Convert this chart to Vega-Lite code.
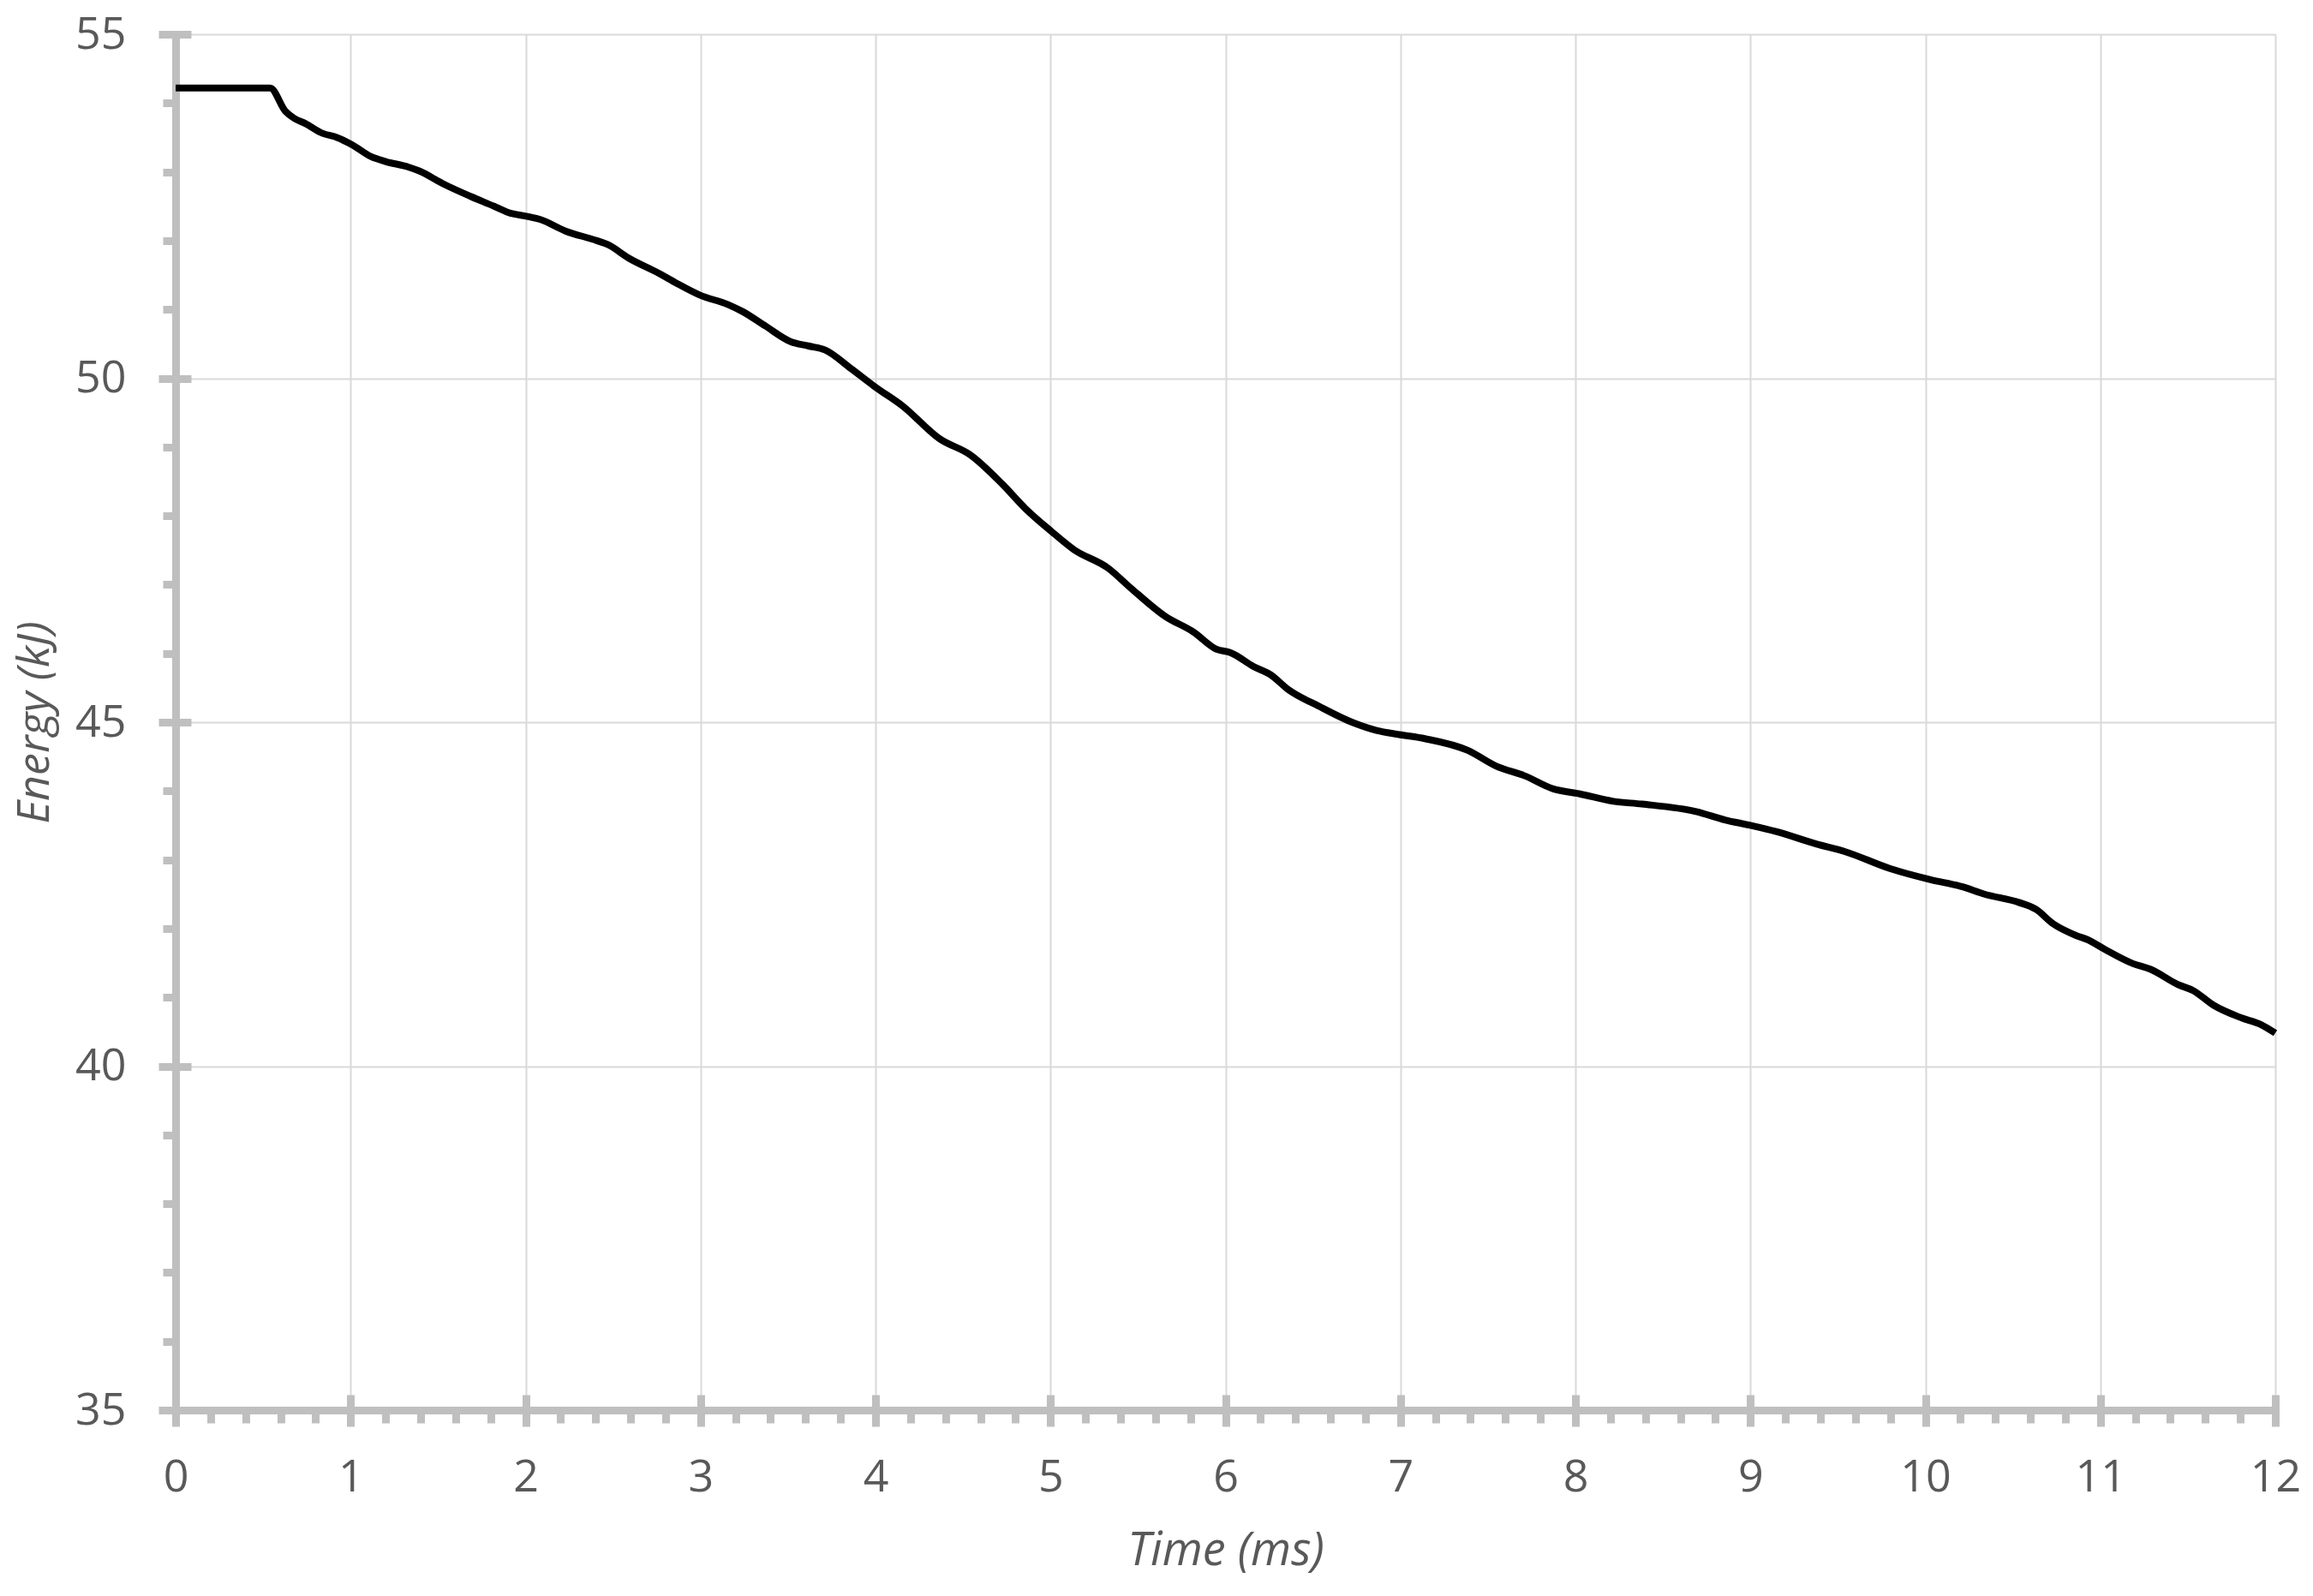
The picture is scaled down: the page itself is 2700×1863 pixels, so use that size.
{
  "$schema": "https://vega.github.io/schema/vega-lite/v6.json",
  "autosize": "none",
  "width": 2451,
  "height": 1606,
  "padding": {"left": 205, "top": 40, "right": 44, "bottom": 217},
  "background": "white",
  "config": {"view": {"stroke": null}},
  "data": {"values": [
    {"t": 0, "E": 54.22}, {"t": 0.54, "E": 54.22}, {"t": 0.628, "E": 53.88}, {"t": 0.677, "E": 53.78},
    {"t": 0.743, "E": 53.7}, {"t": 0.84, "E": 53.56}, {"t": 0.922, "E": 53.5}, {"t": 1.004, "E": 53.4},
    {"t": 1.118, "E": 53.22}, {"t": 1.2, "E": 53.15}, {"t": 1.33, "E": 53.07}, {"t": 1.395, "E": 53.01},
    {"t": 1.526, "E": 52.83}, {"t": 1.689, "E": 52.64}, {"t": 1.82, "E": 52.5}, {"t": 1.9, "E": 52.41},
    {"t": 2.015, "E": 52.35}, {"t": 2.081, "E": 52.31}, {"t": 2.228, "E": 52.14}, {"t": 2.407, "E": 52.0},
    {"t": 2.472, "E": 51.94}, {"t": 2.587, "E": 51.75}, {"t": 2.766, "E": 51.52}, {"t": 2.864, "E": 51.38},
    {"t": 2.995, "E": 51.21}, {"t": 3.158, "E": 51.07}, {"t": 3.24, "E": 50.97}, {"t": 3.37, "E": 50.76},
    {"t": 3.517, "E": 50.53}, {"t": 3.615, "E": 50.47}, {"t": 3.713, "E": 50.41}, {"t": 3.86, "E": 50.14},
    {"t": 4.0, "E": 49.87}, {"t": 4.153, "E": 49.6}, {"t": 4.366, "E": 49.12}, {"t": 4.545, "E": 48.88},
    {"t": 4.725, "E": 48.46}, {"t": 4.855, "E": 48.11}, {"t": 5.002, "E": 47.78}, {"t": 5.133, "E": 47.51},
    {"t": 5.329, "E": 47.24}, {"t": 5.459, "E": 46.95}, {"t": 5.655, "E": 46.54}, {"t": 5.818, "E": 46.31},
    {"t": 5.949, "E": 46.06}, {"t": 6.03, "E": 46.01}, {"t": 6.16, "E": 45.81}, {"t": 6.258, "E": 45.69},
    {"t": 6.356, "E": 45.48}, {"t": 6.536, "E": 45.23}, {"t": 6.732, "E": 44.99}, {"t": 6.863, "E": 44.88},
    {"t": 6.993, "E": 44.82}, {"t": 7.14, "E": 44.76}, {"t": 7.385, "E": 44.59}, {"t": 7.548, "E": 44.36},
    {"t": 7.711, "E": 44.22}, {"t": 7.874, "E": 44.03}, {"t": 8.02, "E": 43.96}, {"t": 8.217, "E": 43.85},
    {"t": 8.38, "E": 43.81}, {"t": 8.69, "E": 43.7}, {"t": 8.854, "E": 43.58}, {"t": 9.0, "E": 43.5},
    {"t": 9.147, "E": 43.41}, {"t": 9.376, "E": 43.23}, {"t": 9.539, "E": 43.12}, {"t": 9.8, "E": 42.87},
    {"t": 10.03, "E": 42.71}, {"t": 10.208, "E": 42.61}, {"t": 10.338, "E": 42.5}, {"t": 10.534, "E": 42.38},
    {"t": 10.632, "E": 42.28}, {"t": 10.73, "E": 42.07}, {"t": 10.861, "E": 41.9}, {"t": 10.926, "E": 41.84},
    {"t": 11.024, "E": 41.7}, {"t": 11.187, "E": 41.49}, {"t": 11.285, "E": 41.41}, {"t": 11.449, "E": 41.18},
    {"t": 11.53, "E": 41.1}, {"t": 11.644, "E": 40.89}, {"t": 11.808, "E": 40.7}, {"t": 11.921, "E": 40.6},
    {"t": 12.0, "E": 40.48}
  ]},
  "resolve": {"axis": {"x": "independent", "y": "independent"}},
  "layer": [
    {
      "mark": {"type": "line", "color": "black", "strokeWidth": 8, "interpolate": "monotone"},
      "encoding": {
        "x": {"field": "t", "type": "quantitative",
          "scale": {"domain": [0, 12], "nice": false, "zero": false},
          "axis": {"orient": "bottom", "title": "Time (ms)", "values": [0,1,2,3,4,5,6,7,8,9,10,11,12],
            "grid": true, "gridColor": "#d9d9d9", "gridWidth": 2,
            "domain": true, "domainColor": "#bfbfbf", "domainWidth": 9, "domainCap": "square",
            "ticks": true, "tickColor": "#bfbfbf", "tickWidth": 9, "tickSize": 19,
            "labelFont": "Open Sans", "labelFontSize": 52, "labelColor": "#595959", "labelPadding": 34,
            "labelFlush": false, "labelOverlap": false,
            "titleFont": "Open Sans", "titleFontSize": 54, "titleFontStyle": "italic", "titleFontWeight": "normal",
            "titleColor": "#595959", "titlePadding": 33}},
        "y": {"field": "E", "type": "quantitative",
          "scale": {"domain": [35, 55], "nice": false, "zero": false},
          "axis": {"orient": "left", "title": "Energy (kJ)", "values": [35, 40, 45, 50, 55],
            "grid": true, "gridColor": "#d9d9d9", "gridWidth": 2,
            "domain": true, "domainColor": "#bfbfbf", "domainWidth": 9, "domainCap": "square",
            "ticks": true, "tickColor": "#bfbfbf", "tickWidth": 9, "tickSize": 20,
            "labelFont": "Open Sans", "labelFontSize": 52, "labelColor": "#595959", "labelPadding": 38,
            "labelFlush": false, "labelOverlap": false,
            "titleFont": "Open Sans", "titleFontSize": 52, "titleFontStyle": "italic", "titleFontWeight": "normal",
            "titleColor": "#595959", "titlePadding": 20}}
      }
    },
    {
      "mark": {"type": "line", "strokeOpacity": 0},
      "encoding": {
        "x": {"field": "t", "type": "quantitative",
          "axis": {"orient": "bottom", "title": null, "labels": false, "grid": false, "domain": false,
            "values": [0.2,0.4,0.6,0.8,1.2,1.4,1.6,1.8,2.2,2.4,2.6,2.8,3.2,3.4,3.6,3.8,4.2,4.4,4.6,4.8,5.2,5.4,5.6,5.8,6.2,6.4,6.6,6.8,7.2,7.4,7.6,7.8,8.2,8.4,8.6,8.8,9.2,9.4,9.6,9.8,10.2,10.4,10.6,10.8,11.2,11.4,11.6,11.8],
            "ticks": true, "tickColor": "#bfbfbf", "tickWidth": 9, "tickSize": 15}},
        "y": {"field": "E", "type": "quantitative",
          "axis": {"orient": "left", "title": null, "labels": false, "grid": false, "domain": false,
            "values": [36,37,38,39,41,42,43,44,46,47,48,49,51,52,53,54],
            "ticks": true, "tickColor": "#bfbfbf", "tickWidth": 9, "tickSize": 15}}
      }
    },
    {
      "mark": {"type": "line", "strokeOpacity": 0},
      "encoding": {
        "x": {"field": "t", "type": "quantitative",
          "axis": {"orient": "bottom", "title": null, "labels": false, "grid": false, "domain": false,
            "values": [0,1,2,3,4,5,6,7,8,9,10,11,12],
            "ticks": true, "tickColor": "#bfbfbf", "tickWidth": 9, "tickSize": -18}},
        "y": {"field": "E", "type": "quantitative",
          "axis": {"orient": "left", "title": null, "labels": false, "grid": false, "domain": false,
            "values": [35, 40, 45, 50, 55],
            "ticks": true, "tickColor": "#bfbfbf", "tickWidth": 9, "tickSize": -18}}
      }
    }
  ]
}
